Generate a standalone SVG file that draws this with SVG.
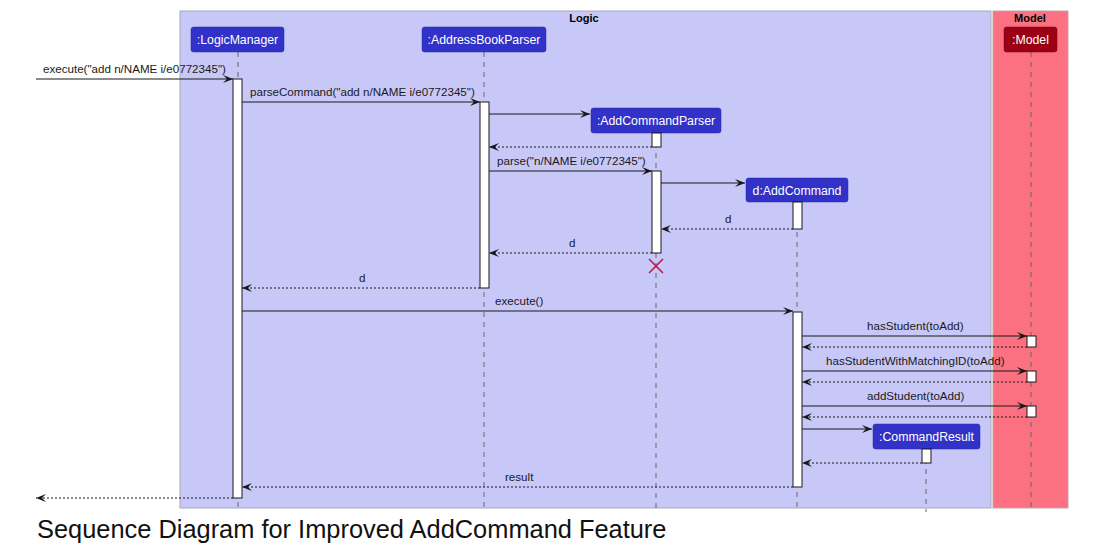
<svg xmlns="http://www.w3.org/2000/svg" width="1110" height="559" viewBox="0 0 1110 559">
<style>
.t{font-family:"Liberation Sans",Arial,sans-serif;font-size:11.6px;fill:#1a1a1a}
.b{font-family:"Liberation Sans",Arial,sans-serif;font-size:11px;font-weight:bold;fill:#000;text-anchor:middle}
.p{font-family:"Liberation Sans",Arial,sans-serif;font-size:12.3px;fill:#fff;text-anchor:middle}
.life{stroke:#666;stroke-width:1;stroke-dasharray:5,5;fill:none}
.bar{fill:#fff;stroke:#181818;stroke-width:1}
.msg{stroke:#181818;stroke-width:1;fill:none}
.ret{stroke:#181818;stroke-width:1;fill:none;stroke-dasharray:2,2}
.pb{fill:#3232C8;stroke:#2a2aa8;stroke-width:0.5}
</style>
<defs>
<marker id="ah" markerWidth="11" markerHeight="10" refX="10" refY="5" orient="auto" markerUnits="userSpaceOnUse">
<polygon points="0,1 10,5 0,9 4,5" fill="#181818"/>
</marker>
<marker id="rh" markerWidth="11" markerHeight="10" refX="10" refY="5" orient="auto" markerUnits="userSpaceOnUse">
<polygon points="0,1 10,5 0,9 4,5" fill="#181818"/>
</marker>
</defs>
<rect width="1110" height="559" fill="#fff"/>
<g id="box-logic">
<rect x="180" y="11" width="811" height="497" fill="#C8C8F8" stroke="#A8A8B8" stroke-width="1"/>
<text class="b" x="584" y="22">Logic</text>
</g>
<g id="box-model">
<rect x="993" y="11" width="75" height="497" fill="#FB7182" stroke="#B8A8A8" stroke-width="1"/>
<text class="b" x="1030" y="22">Model</text>
</g>
<g id="lifelines">
<line class="life" x1="238" y1="52" x2="238" y2="512"/>
<line class="life" x1="484" y1="52" x2="484" y2="512"/>
<line class="life" x1="656" y1="133" x2="656" y2="512"/>
<line class="life" x1="797" y1="202" x2="797" y2="512"/>
<line class="life" x1="926" y1="449" x2="926" y2="512"/>
<line class="life" x1="1031" y1="52" x2="1031" y2="512"/>
</g>
<g id="LogicManager">
<rect class="pb" x="191" y="27" width="93" height="25" rx="2.5"/>
<text class="p" x="237.5" y="44">:LogicManager</text>
<rect class="bar" x="233" y="79" width="9" height="419"/>
</g>
<g id="AddressBookParser">
<rect class="pb" x="422" y="27" width="124" height="25" rx="2.5"/>
<text class="p" x="484" y="44">:AddressBookParser</text>
<rect class="bar" x="480" y="102" width="9" height="186"/>
</g>
<g id="AddCommandParser">
<rect class="pb" x="591" y="108" width="130" height="25" rx="2.5"/>
<text class="p" x="656" y="125">:AddCommandParser</text>
<rect class="bar" x="652" y="133" width="9" height="14"/>
<rect class="bar" x="652" y="171" width="9" height="82"/>
<path d="M649,259 L663,273 M663,259 L649,273" stroke="#C0143C" stroke-width="1.5" fill="none"/>
</g>
<g id="AddCommand">
<rect class="pb" x="746" y="178" width="102" height="24" rx="2.5"/>
<text class="p" x="797" y="195">d:AddCommand</text>
<rect class="bar" x="793" y="202" width="9" height="27"/>
<rect class="bar" x="793" y="312" width="9" height="175"/>
</g>
<g id="CommandResult">
<rect class="pb" x="873" y="424" width="107" height="25" rx="2.5"/>
<text class="p" x="926.5" y="441">:CommandResult</text>
<rect class="bar" x="922" y="449" width="9" height="14"/>
</g>
<g id="Model">
<rect x="1004" y="27" width="53" height="25" rx="2.5" fill="#9C0014" stroke="#7a0010" stroke-width="0.5"/>
<text class="p" x="1030.5" y="44">:Model</text>
<rect class="bar" x="1027" y="336" width="9" height="11"/>
<rect class="bar" x="1027" y="371" width="9" height="11"/>
<rect class="bar" x="1027" y="406" width="9" height="11"/>
</g>
<g id="connectors">
<line class="msg" x1="36" y1="79" x2="233" y2="79" marker-end="url(#ah)"/>
<text class="t" x="43" y="73">execute("add n/NAME i/e0772345")</text>
<line class="msg" x1="242" y1="102" x2="480" y2="102" marker-end="url(#ah)"/>
<text class="t" x="250" y="96">parseCommand("add n/NAME i/e0772345")</text>
<line class="msg" x1="489" y1="114" x2="590" y2="114" marker-end="url(#ah)"/>
<line class="ret" x1="652" y1="147" x2="489" y2="147" marker-end="url(#rh)"/>
<line class="msg" x1="489" y1="171" x2="652" y2="171" marker-end="url(#ah)"/>
<text class="t" x="497" y="165">parse("n/NAME i/e0772345")</text>
<line class="msg" x1="661" y1="183" x2="745" y2="183" marker-end="url(#ah)"/>
<line class="ret" x1="793" y1="229" x2="661" y2="229" marker-end="url(#rh)"/>
<text class="t" x="725" y="223">d</text>
<line class="ret" x1="652" y1="253" x2="489" y2="253" marker-end="url(#rh)"/>
<text class="t" x="569" y="247">d</text>
<line class="ret" x1="480" y1="288" x2="242" y2="288" marker-end="url(#rh)"/>
<text class="t" x="359" y="282">d</text>
<line class="msg" x1="242" y1="311" x2="793" y2="311" marker-end="url(#ah)"/>
<text class="t" x="495" y="305">execute()</text>
<line class="msg" x1="802" y1="336" x2="1027" y2="336" marker-end="url(#ah)"/>
<text class="t" x="867" y="330">hasStudent(toAdd)</text>
<line class="ret" x1="1027" y1="347" x2="802" y2="347" marker-end="url(#rh)"/>
<line class="msg" x1="802" y1="371" x2="1027" y2="371" marker-end="url(#ah)"/>
<text class="t" x="826" y="365">hasStudentWithMatchingID(toAdd)</text>
<line class="ret" x1="1027" y1="382" x2="802" y2="382" marker-end="url(#rh)"/>
<line class="msg" x1="802" y1="406" x2="1027" y2="406" marker-end="url(#ah)"/>
<text class="t" x="867" y="400">addStudent(toAdd)</text>
<line class="ret" x1="1027" y1="417" x2="802" y2="417" marker-end="url(#rh)"/>
<line class="msg" x1="802" y1="429" x2="872" y2="429" marker-end="url(#ah)"/>
<line class="ret" x1="922" y1="463" x2="802" y2="463" marker-end="url(#rh)"/>
<line class="ret" x1="793" y1="487" x2="242" y2="487" marker-end="url(#rh)"/>
<text class="t" x="505" y="481">result</text>
<line class="ret" x1="233" y1="498" x2="36" y2="498" marker-end="url(#rh)"/>
</g>
<text x="37" y="538" font-family="'Liberation Sans',Arial,sans-serif" font-size="25.4px" fill="#111">Sequence Diagram for Improved AddCommand Feature</text>
</svg>
